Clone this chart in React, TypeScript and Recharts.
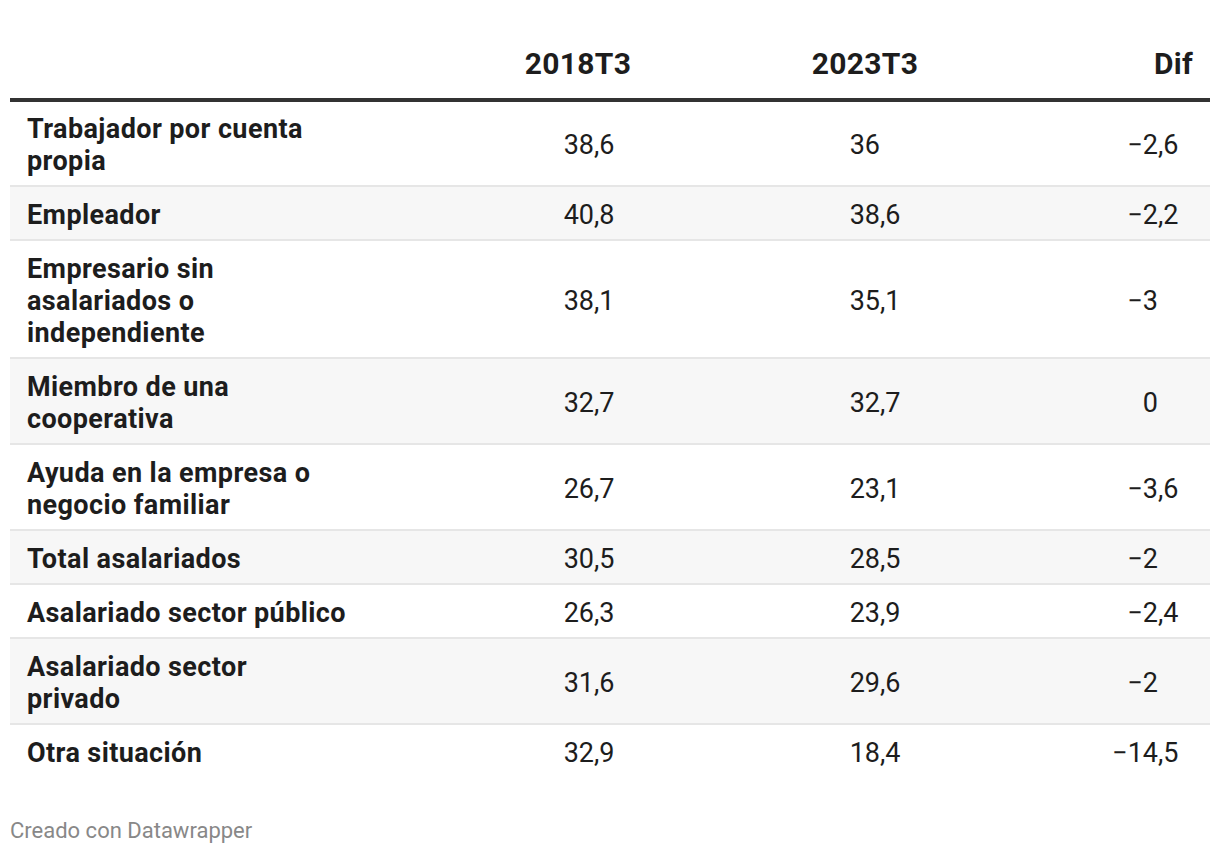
import { ReferenceArea, ReferenceLine, Scatter, ScatterChart, XAxis, YAxis } from 'recharts'

// row labels, pre-broken the way the source wraps them
const rowLabels: string[][] = [
  ['Trabajador por cuenta', 'propia'],
  ['Empleador'],
  ['Empresario sin', 'asalariados o', 'independiente'],
  ['Miembro de una', 'cooperativa'],
  ['Ayuda en la empresa o', 'negocio familiar'],
  ['Total asalariados'],
  ['Asalariado sector público'],
  ['Asalariado sector', 'privado'],
  ['Otra situación'],
]

const columnNames = ['2018T3', '2023T3', 'Dif']

const values2018 = [38.6, 40.8, 38.1, 32.7, 26.7, 30.5, 26.3, 31.6, 32.9]
const values2023 = [36, 38.6, 35.1, 32.7, 23.1, 28.5, 23.9, 29.6, 18.4]
const valuesDif = [-2.6, -2.2, -3, 0, -3.6, -2, -2.4, -2, -14.5]

const footerText = 'Creado con Datawrapper'

// layout
const W = 1220
const TABLE_W = 1200
const LINE_H = 32
const ROW_PAD = 22
const LABEL_X = 17
// header anchor + where the integer part of the numbers ends
const columnLayout = [
  { header: 568, anchor: 'middle', intEnd: 584 },
  { header: 855, anchor: 'middle', intEnd: 870 },
  { header: 1183, anchor: 'end', intEnd: 1148 },
]
const FONT = 'Roboto, "Noto Sans", sans-serif'
const TEXT = '#1d1d1d'

const rowHeights = rowLabels.map((l) => ROW_PAD + LINE_H * l.length)
const rowTops = rowHeights.map((_, i) => rowHeights.slice(0, i).reduce((a, b) => a + b, 0))
const totalH = rowHeights.reduce((a, b) => a + b, 0)

const labelPoints = rowLabels.map((lines, i) => ({ x: LABEL_X, y: rowTops[i] + rowHeights[i] / 2, lines }))
const seriesValues = [values2018, values2023, valuesDif]
const valuePoints = seriesValues.map((vals, c) =>
  vals.map((v, i) => ({ x: columnLayout[c].intEnd, y: rowTops[i] + rowHeights[i] / 2, value: v })),
)

function splitNumber(v: number) {
  const s = Math.abs(v).toString().split('.')
  const int = (v < 0 ? '\u2212' : '') + s[0]
  return { int, dec: s[1] ? ',' + s[1] : '' }
}

function LabelShape(props: any) {
  const { cx, cy, payload } = props
  const lines: string[] = payload.lines
  const start = cy - ((lines.length - 1) * LINE_H) / 2
  return (
    <text fontFamily={FONT} fontSize={27} fontWeight={700} letterSpacing={0.4} fill={TEXT}>
      {lines.map((l, i) => (
        <tspan key={i} x={cx} y={start + i * LINE_H} dy="0.4em">
          {l}
        </tspan>
      ))}
    </text>
  )
}

function ValueShape(props: any) {
  const { cx, cy, payload } = props
  const { int, dec } = splitNumber(payload.value)
  return (
    <g fontFamily={FONT} fontSize={27} fill={TEXT}>
      <text x={cx} y={cy} dy="0.4em" textAnchor="end">{int}</text>
      {dec && <text x={cx} y={cy} dy="0.4em" textAnchor="start">{dec}</text>}
    </g>
  )
}

function HeaderTick(props: any) {
  const { x, y, index } = props
  const col = columnLayout[index]
  return (
    <text x={x} y={y - 26} textAnchor={col.anchor} fontFamily={FONT} fontSize={30} fontWeight={700} letterSpacing={0.3} fill={TEXT}>
      {columnNames[index]}
    </text>
  )
}

export default function App() {
  return (
    <div style={{ position: 'absolute', left: 0, top: 0, width: W, height: 854, background: '#fff' }}>
      <ScatterChart width={W} height={790} margin={{ top: 0, right: 10, bottom: 12, left: 10 }}>
        <XAxis
          type="number"
          dataKey="x"
          orientation="top"
          height={100}
          domain={[0, TABLE_W]}
          ticks={columnLayout.map((c) => c.header)}
          interval={0}
          tickLine={false}
          tickSize={0}
          tickMargin={0}
          axisLine={{ stroke: '#333333', strokeWidth: 4 }}
          tick={<HeaderTick />}
          allowDataOverflow
        />
        <YAxis type="number" dataKey="y" domain={[0, totalH]} reversed hide allowDataOverflow />
        {rowTops.map((t, i) =>
          i % 2 === 1 ? (
            <ReferenceArea key={'bg' + i} x1={0} x2={TABLE_W} y1={t} y2={t + rowHeights[i]} fill="#f7f7f7" fillOpacity={1} stroke="none" />
          ) : null,
        )}
        {rowTops.slice(1).map((t, i) => (
          <ReferenceLine key={'sep' + i} y={t} stroke="#e6e6e6" strokeWidth={2} />
        ))}
        <Scatter data={labelPoints} shape={LabelShape} isAnimationActive={false} />
        {valuePoints.map((pts, c) => (
          <Scatter key={columnNames[c]} name={columnNames[c]} data={pts} shape={ValueShape} isAnimationActive={false} />
        ))}
      </ScatterChart>
      <div
        style={{
          position: 'absolute',
          left: 10,
          top: 820,
          fontFamily: FONT,
          fontSize: 22,
          lineHeight: '22px',
          color: '#888888',
        }}
      >
        {footerText}
      </div>
    </div>
  )
}
